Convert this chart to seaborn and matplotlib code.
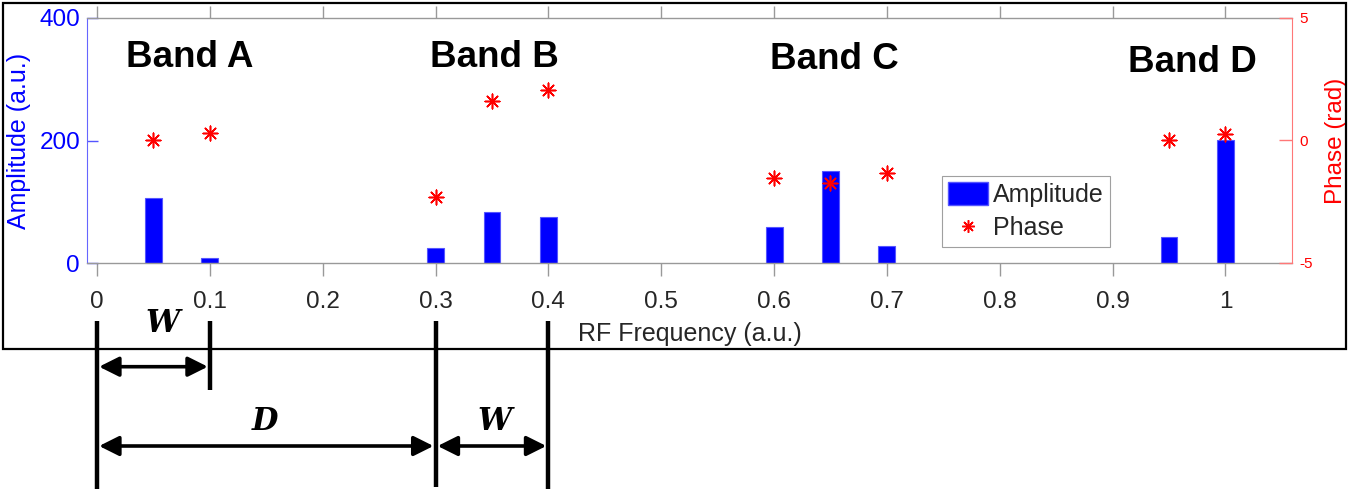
import numpy as np
import pandas as pd
import seaborn as sns
import matplotlib
matplotlib.use("Agg")
import matplotlib.pyplot as plt
from matplotlib.patches import Patch, Rectangle
from matplotlib.lines import Line2D
from matplotlib.transforms import blended_transform_factory

# ---- data ----
freq = [0.05, 0.10, 0.30, 0.35, 0.40, 0.60, 0.65, 0.70, 0.95, 1.00]
amplitude = [106, 8, 25, 84, 75, 59, 151, 28, 43, 201]
phase = [0.0, 0.32, -2.3, 1.61, 2.06, -1.55, -1.75, -1.34, 0.0, 0.27]
band_names = ["Band A", "Band B", "Band C", "Band D"]
band_x = [0.082, 0.352, 0.653, 0.971]
band_y = [335, 335, 333, 328]
xticks = [0, 0.1, 0.2, 0.3, 0.4, 0.5, 0.6, 0.7, 0.8, 0.9, 1.0]
xtick_labels = ["0", "0.1", "0.2", "0.3", "0.4", "0.5", "0.6", "0.7", "0.8", "0.9", "1"]
edge_x = [0.0, 0.1, 0.3, 0.4]

sns.set_style("white")
plt.rcParams["font.family"] = ["Liberation Sans", "DejaVu Sans"]

W, H = 1366, 492
fig = plt.figure(figsize=(W / 100, H / 100), dpi=100)
ax = fig.add_axes([87 / W, 1 - 263 / H, (1292 - 87) / W, (263 - 18) / H])

df = pd.DataFrame({"freq": freq, "amp": amplitude, "phase": phase})
sns.barplot(data=df, x="freq", y="amp", native_scale=True, width=0.3,
            color="#0000ff", saturation=1, edgecolor="#5555ff", linewidth=0.8, ax=ax, zorder=2)
ax.set_xlim(-0.0089, 1.059)
ax.set_ylim(0, 400)
ax.set_yticks([0, 200, 400])
ax.set_xticks(xticks)
ax.set_xticklabels(xtick_labels)
ax.tick_params(axis="x", direction="out", length=9, width=1, color="#999999",
               labelsize=17.5, labelcolor="#262626", top=True, bottom=True, pad=11)
ax.tick_params(axis="y", direction="in", length=8, width=1, color="#5555ff",
               labelsize=17.5, labelcolor="#0000ff", left=True, pad=5)
ax.set_xlabel("RF Frequency (a.u.)", fontsize=18, color="#262626", labelpad=7)
ax.set_ylabel("Amplitude (a.u.)", fontsize=18, color="#0000ff", labelpad=6)
for s in ["top", "bottom"]:
    ax.spines[s].set_color("#999999")
    ax.spines[s].set_linewidth(1)
ax.spines["left"].set_color("#6666ff")
ax.spines["right"].set_visible(False)

ax2 = ax.twinx()
sns.scatterplot(data=df, x="freq", y="phase", ax=ax2, marker=(8, 2, 0), s=110,
                color="red", edgecolor="red", linewidth=1.15, zorder=3, legend=False)
ax2.set_ylim(-5, 5)
ax2.set_yticks([-5, 0, 5])
ax2.set_yticklabels(["-5", "0", "5"])
ax2.tick_params(axis="y", direction="in", length=9.5, width=1, color="#ff7777",
                labelsize=11, labelcolor="red", right=True, pad=5)
ax2.set_ylabel("Phase (rad)", fontsize=17.5, color="red", labelpad=9)
for s in ["top", "bottom", "left"]:
    ax2.spines[s].set_visible(False)
ax2.spines["right"].set_color("#ff7777")
ax2.spines["right"].set_visible(True)
ax2.set_xlabel("")

for name, bx, by in zip(band_names, band_x, band_y):
    ax.text(bx, by, name, ha="center", va="center", fontsize=26.5, fontweight="bold", color="black")

handles = [Patch(facecolor="#0000ff", edgecolor="#5555ff"),
           Line2D([], [], marker=(8, 2, 0), linestyle="", color="red", markersize=9, markeredgewidth=1.1)]
leg = ax2.legend(handles, ["Amplitude", "Phase"], loc="upper left",
                 bbox_to_anchor=((942 - 87) / (1292 - 87), (263 - 176) / 245),
                 fontsize=18, frameon=True, fancybox=False, edgecolor="#888888",
                 handlelength=1.6, handleheight=1.0, handletextpad=0.2, borderpad=0.25,
                 labelspacing=0.35, borderaxespad=0)
leg.get_frame().set_linewidth(0.8)

# outer frame
fig.patches.append(Rectangle((3 / W, 1 - 349 / H), (1346 - 3) / W, (349 - 3) / H,
                             transform=fig.transFigure, fill=False, edgecolor="black",
                             linewidth=1.6, zorder=5))

# spacing annotations
tr = blended_transform_factory(ax.transData, fig.transFigure)
fy = lambda y: 1 - y / H
bottoms = [489, 390, 487, 489]
for xv, yb in zip(edge_x, bottoms):
    fig.add_artist(Line2D([xv, xv], [fy(321), fy(yb)], transform=tr, color="black",
                          linewidth=3.2, solid_capstyle="butt"))

def dim_arrow(x0, x1, y):
    ax.annotate("", xy=(x1, fy(y)), xytext=(x0, fy(y)), xycoords=tr, textcoords=tr,
                arrowprops=dict(arrowstyle="<|-|>", color="black", lw=2.6,
                                mutation_scale=30, shrinkA=1.5, shrinkB=1.5),
                annotation_clip=False)

dim_arrow(edge_x[0], edge_x[1], 366.7)
dim_arrow(edge_x[0], edge_x[2], 446)
dim_arrow(edge_x[2], edge_x[3], 446)

lab_kw = dict(transform=tr, ha="center", va="center", fontsize=22, fontweight="bold",
              fontstyle="italic", family="DejaVu Serif", color="black")
fig.text(0.058, fy(323), "W", **lab_kw)
fig.text(0.149, fy(421), "D", **lab_kw)
fig.text(0.352, fy(421), "W", **lab_kw)

fig.savefig("out.png", dpi=100)
